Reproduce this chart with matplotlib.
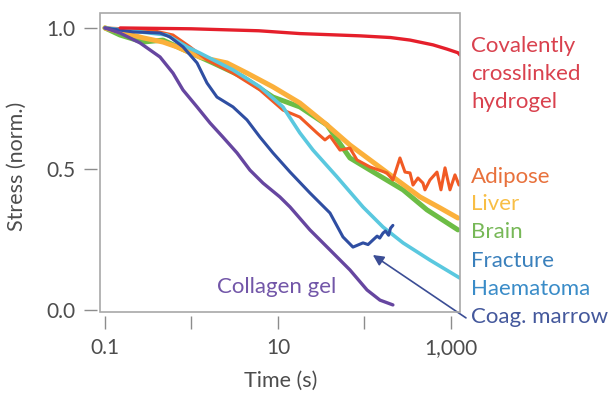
import matplotlib
matplotlib.use('Agg')
import matplotlib.pyplot as plt
from matplotlib.patches import Rectangle
from matplotlib.ticker import NullLocator

plt.rcParams['font.family'] = ['Lato', 'DejaVu Sans']

# ---------------- data ----------------
covalent_t = [0.15, 1.0, 6.0, 18, 89, 200, 336, 620, 900, 1205, 1271]
covalent_s = [1.0, 0.997, 0.99, 0.98, 0.972, 0.966, 0.957, 0.94, 0.925, 0.912, 0.904]

collagen_t = [0.1, 0.149, 0.254, 0.433, 0.611, 0.798, 1.16, 1.64, 2.31, 3.36, 4.74, 6.71,
              10.5, 13.8, 23.4, 39.9, 67.9, 107, 151, 185, 213]
collagen_s = [1.0, 0.982, 0.947, 0.897, 0.840, 0.780, 0.720, 0.663, 0.613, 0.557, 0.496, 0.450,
              0.401, 0.365, 0.284, 0.213, 0.142, 0.071, 0.035, 0.025, 0.018]

marrow_t = [0.1, 0.211, 0.433, 0.564, 0.798, 1.16, 1.51, 1.97, 3.02, 4.38, 6.19, 8.75, 13.8,
            23.4, 39.9, 56.4, 73.6, 96.2, 110, 125, 140, 150, 164, 175, 190, 200, 213]
marrow_s = [1.0, 0.986, 0.982, 0.968, 0.933, 0.876, 0.805, 0.755, 0.720, 0.674, 0.613, 0.557, 0.489,
            0.415, 0.344, 0.259, 0.223, 0.238, 0.232, 0.248, 0.262, 0.255, 0.273, 0.28, 0.265, 0.29, 0.30]

haematoma_t = [0.1, 0.254, 0.521, 0.887, 1.25, 3.02, 6.19, 11.4, 17.9, 25.4, 48.1, 96.2, 164,
               279, 571, 1271]
haematoma_s = [1.0, 0.986, 0.975, 0.933, 0.911, 0.851, 0.791, 0.720, 0.628, 0.567, 0.472, 0.365,
               0.294, 0.238, 0.177, 0.113]

adipose_t = [0.1, 0.195, 0.331, 0.611, 0.96, 1.51, 3.02, 6.19, 11.4, 17.9, 28.2, 34.9, 39.9, 52.1,
             67.9, 81.9, 116, 182, 213, 257, 294, 336, 364, 415, 474, 500, 571, 689, 766, 853,
             973, 1112, 1237]
adipose_s = [1.0, 0.996, 0.993, 0.975, 0.933, 0.887, 0.840, 0.780, 0.709, 0.684, 0.628, 0.603,
             0.617, 0.567, 0.574, 0.532, 0.507, 0.486, 0.461, 0.539, 0.489, 0.486, 0.443, 0.468,
             0.450, 0.426, 0.461, 0.489, 0.426, 0.504, 0.426, 0.479, 0.443]

liver_t = [0.1, 0.149, 0.275, 0.469, 0.679, 1.25, 2.57, 4.38, 8.75, 17.9, 36.8, 67.9, 116, 238,
           438, 747, 1205]
liver_s = [1.0, 0.986, 0.965, 0.950, 0.933, 0.897, 0.876, 0.840, 0.791, 0.734, 0.656, 0.585,
           0.532, 0.461, 0.401, 0.362, 0.326]

brain_t = [0.1, 0.149, 0.275, 0.469, 0.736, 1.77, 3.94, 8.75, 17.9, 36.8, 67.9, 116, 279, 528, 1205]
brain_s = [1.0, 0.975, 0.950, 0.957, 0.929, 0.876, 0.826, 0.755, 0.720, 0.656, 0.539, 0.496,
           0.426, 0.355, 0.284]

x_ticks = [0.1, 1, 10, 100, 1000]
x_ticklabels = ['0.1', '', '10', '', '1,000']
y_ticks = [0.0, 0.5, 1.0]
y_ticklabels = ['0.0', '0.5', '1.0']

# ---------------- figure ----------------
W, H = 612, 395
fig = plt.figure(figsize=(W / 100, H / 100), dpi=100)
ax = fig.add_axes([100 / W, 1 - 312 / H, 360 / W, 299 / H])
ax.set_xscale('log')
ax.set_xlim(0.0876, 1271)
ax.set_ylim(-0.0071, 1.053)

def fx(px):
    return px / W

def fy(py):
    return 1 - py / H

kw = dict(solid_capstyle='round', solid_joinstyle='round')
ax.plot(brain_t, brain_s, color='#6cbd45', lw=3.6, **kw)
ax.plot(liver_t, liver_s, color='#fbb03b', lw=3.6, **kw)
ax.plot(adipose_t, adipose_s, color='#f15a24', lw=2.2, **kw)
ax.plot(haematoma_t, haematoma_s, color='#5ac8df', lw=2.6, **kw)
ax.plot(marrow_t, marrow_s, color='#2f4ea2', lw=2.2, **kw)
ax.plot(collagen_t, collagen_s, color='#6646a0', lw=2.4, **kw)
ax.plot(covalent_t, covalent_s, color='#e51f2b', lw=2.4, **kw)

for s in ax.spines.values():
    s.set_visible(False)
ax.spines['left'].set_position(('outward', 2))
ax.spines['bottom'].set_position(('outward', 3))
ax.add_patch(Rectangle((0, 0), 1, 1, transform=ax.transAxes, fill=False,
                       ec='#a8a8a8', lw=1.2, clip_on=False, zorder=5))

ax.set_xticks(x_ticks)
ax.set_xticklabels(x_ticklabels)
ax.xaxis.set_minor_locator(NullLocator())
ax.set_yticks(y_ticks)
ax.set_yticklabels(y_ticklabels)
ax.tick_params(direction='out', length=9.5, width=1.0, color='#8c8c8c',
               labelsize=15, labelcolor='#4d4d4d', pad=6)

fig.text(fx(17), fy(166), 'Stress (norm.)', rotation=90, ha='center', va='center',
         fontsize=15.5, color='#4d4d4d')
fig.text(fx(281), fy(381), 'Time (s)', ha='center', va='center', fontsize=15.5, color='#4d4d4d')

lab_x = fx(471)
for txt, base in [('Covalently', 52), ('crosslinked', 80), ('hydrogel', 108)]:
    fig.text(lab_x, fy(base), txt, ha='left', va='baseline', fontsize=16, color='#d9414e')
labels = [('Adipose', 183, '#e8713c'), ('Liver', 210, '#f8be45'), ('Brain', 238, '#77b857'),
          ('Fracture', 267, '#3a80bc'), ('Haematoma', 295, '#3a8cc8'),
          ('Coag. marrow', 323, '#44589c')]
for txt, base, c in labels:
    fig.text(lab_x, fy(base), txt, ha='left', va='baseline', fontsize=16, color=c)

fig.text(fx(277), fy(293), 'Collagen gel', ha='center', va='baseline', fontsize=16, color='#7256a8')

ax.annotate('', xy=(125, 0.195), xytext=(1490, -0.028), xycoords='data', textcoords='data',
            annotation_clip=False,
            arrowprops=dict(arrowstyle='-|>', color='#3b4d95', lw=1.2,
                            mutation_scale=16, shrinkA=0, shrinkB=0))

fig.savefig('out.png', dpi=100)
